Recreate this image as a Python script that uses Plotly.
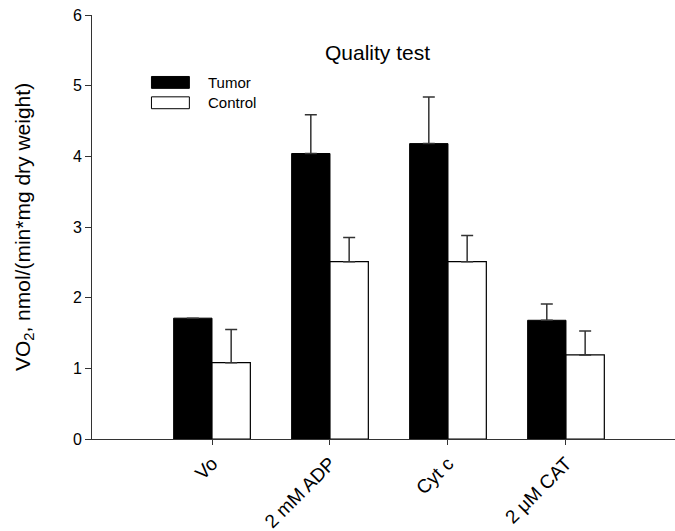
import plotly.graph_objects as go

# Mitochondrial respiration quality test
categories = ["Vo", "2 mM ADP", "Cyt c", "2 μM CAT"]
tumor_values = [1.71, 4.04, 4.18, 1.68]
tumor_errors = [None, 0.55, 0.66, 0.23]
control_values = [1.08, 2.51, 2.51, 1.19]
control_errors = [0.47, 0.34, 0.37, 0.34]
y_ticks = [0, 1, 2, 3, 4, 5, 6]

FONT = "Liberation Sans, Arial, sans-serif"
positions = list(range(len(categories)))

fig = go.Figure()
fig.add_trace(go.Bar(
    x=positions, y=tumor_values, name="Tumor",
    marker=dict(color="black", line=dict(color="black", width=1)),
    error_y=dict(type="data", symmetric=False, array=tumor_errors,
                 arrayminus=[0] * len(tumor_errors),
                 color="#333333", thickness=1.5, width=6),
    showlegend=False,
))
fig.add_trace(go.Bar(
    x=positions, y=control_values, name="Control",
    marker=dict(color="white", line=dict(color="black", width=1.2)),
    error_y=dict(type="data", symmetric=False, array=control_errors,
                 arrayminus=[0] * len(control_errors),
                 color="#333333", thickness=1.5, width=6),
    showlegend=False,
))

# hand-drawn legend boxes
legend_items = [("Tumor", "black"), ("Control", "white")]
shapes = []
annotations = []
for i, (label, fill) in enumerate(legend_items):
    y_top = 0.855 - i * 0.048
    shapes.append(dict(type="rect", xref="paper", yref="paper",
                       x0=0.102, x1=0.167, y0=y_top - 0.028, y1=y_top,
                       fillcolor=fill, line=dict(color="black", width=1)))
    annotations.append(dict(text=label, xref="paper", yref="paper",
                            x=0.196, y=y_top - 0.014, xanchor="left",
                            yanchor="middle", showarrow=False,
                            font=dict(family=FONT, size=15, color="black")))

annotations.append(dict(text="Quality test", xref="paper", yref="paper",
                        x=0.49, y=0.912, xanchor="center", yanchor="middle",
                        showarrow=False,
                        font=dict(family=FONT, size=21, color="black")))

fig.update_layout(
    width=675, height=531,
    margin=dict(l=92, r=0, t=15, b=92),
    paper_bgcolor="white", plot_bgcolor="white",
    barmode="group", bargap=0.35, bargroupgap=0,
    shapes=shapes, annotations=annotations,
    font=dict(family=FONT, color="black"),
    xaxis=dict(
        range=[-1.017, 3.924], tickmode="array", tickvals=positions,
        ticktext=categories, tickangle=-45, ticks="outside", ticklen=5,
        tickcolor="#333333", showline=True, linecolor="#333333", linewidth=1,
        showgrid=False, zeroline=False, automargin=False,
        tickfont=dict(family=FONT, size=19, color="black"),
    ),
    yaxis=dict(
        range=[0, 6], tickvals=y_ticks, ticks="outside", ticklen=6,
        tickcolor="#333333", showline=True, linecolor="#333333", linewidth=1,
        showgrid=False, zeroline=False, automargin=False,
        tickfont=dict(family=FONT, size=16, color="black"),
        title=dict(text="VO<sub>2</sub>, nmol/(min*mg dry weight)",
                   font=dict(family=FONT, size=21, color="black"), standoff=36),
    ),
)

fig.write_html("out.html")
